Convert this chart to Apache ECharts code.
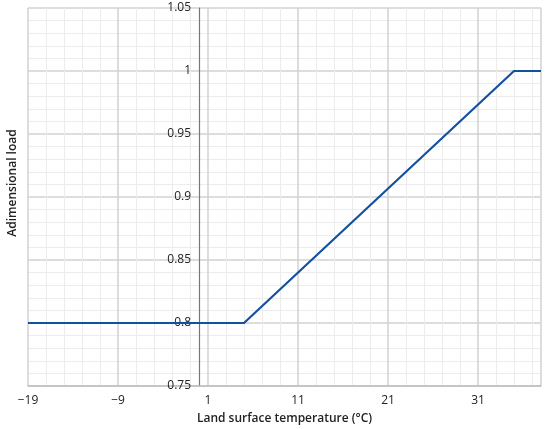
<!DOCTYPE html>
<html>
<head>
<meta charset="utf-8">
<script src="https://cdn.jsdelivr.net/npm/echarts@6/dist/echarts.min.js"></script>
<style>
  html, body { margin: 0; padding: 0; background: #fff; }
  #chart { width: 550px; height: 429px; }
</style>
</head>
<body>
<div id="chart"></div>
<script>
// land surface temperature (°C) breakpoints and the load
const temperature = [-19, 5, 35, 38]
const load = [0.8, 0.8, 1.0, 1.0]

const xRange = [-19, 38]
const yRange = [0.75, 1.05]

const fontFamily = '"Open Sans", "Noto Sans", sans-serif'
const gridLeft = 28
const yNameX = 19

const chart = echarts.init(document.getElementById('chart'))

const option = {
  animation: false,
  grid: { left: gridLeft, right: 9, top: 8, bottom: 43, outerBoundsMode: 'none' },
  xAxis: {
    type: 'value',
    min: xRange[0],
    max: xRange[1],
    interval: 10,
    name: 'Land surface temperature (°C)',
    nameLocation: 'middle',
    nameGap: 27,
    nameTextStyle: { fontFamily, fontSize: 12, fontWeight: 600, color: '#222' },
    axisLine: { onZero: false, lineStyle: { color: '#bdbdbd', width: 1.5 } },
    axisTick: { show: false },
    axisLabel: {
      fontFamily,
      fontSize: 12,
      color: '#222',
      margin: 9,
      showMaxLabel: false,
      formatter: v => String(v).replace('-', '\u2212')
    },
    splitLine: { show: true, lineStyle: { color: '#d2d2d2', width: 1.5 } },
    minorTick: { show: false, splitNumber: 5 },
    minorSplitLine: { show: true, lineStyle: { color: '#ececec', width: 1 } }
  },
  yAxis: {
    type: 'value',
    min: yRange[0],
    max: yRange[1],
    interval: 0.05,
    offset: 0,
    name: 'Adimensional load',
    nameLocation: 'middle',
    nameGap: 0,
    nameTextStyle: { fontFamily, fontSize: 12, fontWeight: 600, color: '#222', padding: [0, 0, 0, 28] },
    axisLine: { show: true, onZero: false, lineStyle: { color: '#777', width: 1.2 } },
    axisTick: { show: false },
    axisLabel: { fontFamily, fontSize: 12, color: '#222', margin: 8 },
    splitLine: { show: true, lineStyle: { color: '#d2d2d2', width: 1.5 } },
    minorTick: { show: false, splitNumber: 5 },
    minorSplitLine: { show: true, lineStyle: { color: '#ececec', width: 1 } }
  },
  series: [
    {
      type: 'line',
      data: temperature.map((t, i) => [t, load[i]]),
      showSymbol: false,
      lineStyle: { color: '#1450a0', width: 2.2 },
      z: 1
    }
  ]
}

chart.setOption(option)

// move the y axis (line + labels) to x = 0, keep its title at the far left
const zeroX = chart.convertToPixel({ xAxisIndex: 0 }, 0)
chart.setOption({
  yAxis: {
    offset: gridLeft - zeroX,
    nameGap: zeroX - yNameX
  }
})
</script>
</body>
</html>
